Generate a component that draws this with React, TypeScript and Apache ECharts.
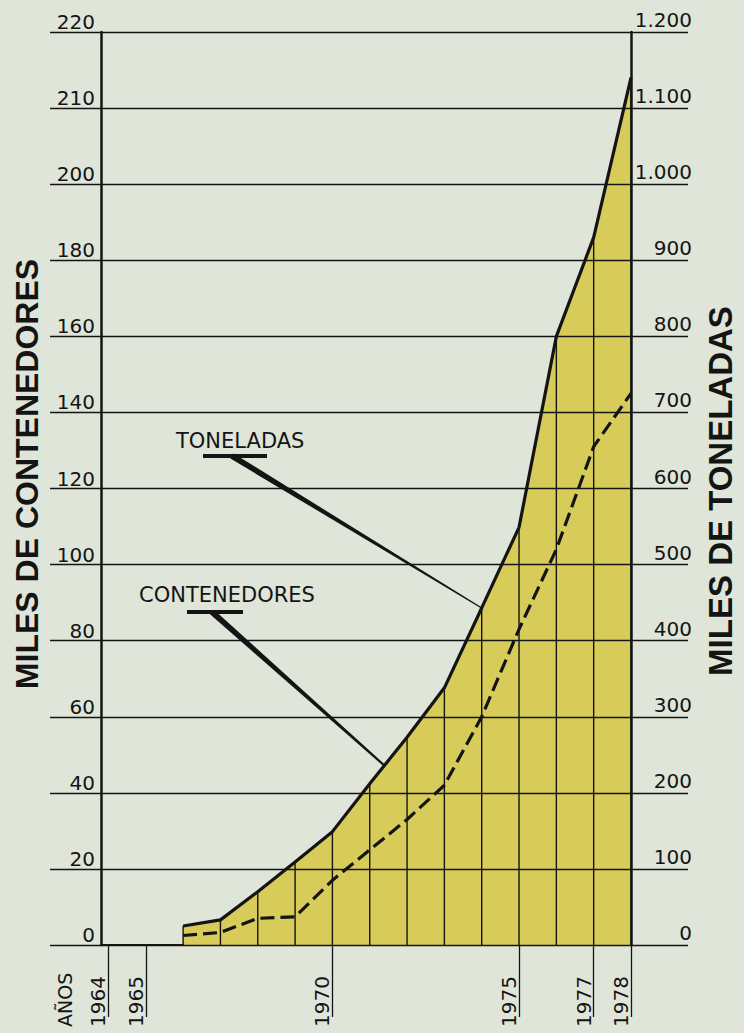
import React, { useEffect, useRef } from "react";
import * as echarts from "echarts";

// ---- data ----
const years = [1966, 1967, 1968, 1969, 1970, 1971, 1972, 1973, 1974, 1975, 1976, 1977, 1978];
// miles de toneladas (right axis)
const toneladas = [25, 33, 70, 109, 149, 212, 273, 338, 443, 549, 800, 930, 1140];
// miles de contenedores (left axis)
const contenedores = [2.5, 3.3, 7, 7.4, 17, 25, 33, 42, 60, 83, 104, 131, 145];
// labelled years on the x axis
const yearTicks = [1964, 1965, 1970, 1975, 1977, 1978];

const INK = "#141414";
const BG = "#dfe5d9";
const FILL = "#d7cc5a";
const NUM_FONT = "DejaVu Sans";

function leftLabel(v: number): string {
  // the drawing switches from steps of 20 to steps of 10 above 200
  const n = v <= 200 ? v : 200 + (v - 200) / 2;
  return String(n);
}

function rightLabel(v: number): string {
  if (v >= 1000) {
    const r = v - 1000;
    return "1." + String(r).padStart(3, "0");
  }
  return String(v);
}

function wedge(x1: number, y1: number, x2: number, y2: number, w1: number, w2: number) {
  const dx = x2 - x1;
  const dy = y2 - y1;
  const len = Math.sqrt(dx * dx + dy * dy) || 1;
  const nx = -dy / len;
  const ny = dx / len;
  return [
    [x1 + (nx * w1) / 2, y1 + (ny * w1) / 2],
    [x2 + (nx * w2) / 2, y2 + (ny * w2) / 2],
    [x2 - (nx * w2) / 2, y2 - (ny * w2) / 2],
    [x1 - (nx * w1) / 2, y1 - (ny * w1) / 2],
  ];
}

export default function App() {
  const ref = useRef<HTMLDivElement>(null);

  useEffect(() => {
    if (!ref.current) return;
    const chart = echarts.init(ref.current, undefined, { renderer: "svg" });

    const tonData = years.map((y, i) => [y, toneladas[i]]);
    const conData = years.map((y, i) => [y, contenedores[i]]);

    chart.setOption({
      animation: false,
      backgroundColor: BG,
      grid: { left: 101, right: 113, top: 32, bottom: 88, containLabel: false },
      xAxis: {
        type: "value",
        min: 1963.8,
        max: 1978,
        axisLine: { show: true, lineStyle: { color: INK, width: 1.8 } },
        axisTick: {
          show: true,
          customValues: yearTicks,
          length: 72,
          lineStyle: { color: INK, width: 1.3 },
        },
        axisLabel: {
          show: true,
          customValues: yearTicks,
          rotate: 90,
          align: "left",
          verticalAlign: "bottom",
          margin: 82,
          fontSize: 20,
          fontFamily: NUM_FONT,
          color: INK,
          formatter: (v: number) => String(v),
        },
        splitLine: { show: false },
      },
      yAxis: [
        {
          type: "value",
          position: "left",
          min: 0,
          max: 240,
          interval: 20,
          z: 3,
          axisLine: { show: true, lineStyle: { color: INK, width: 2.5 } },
          axisTick: { show: true, length: 51, lineStyle: { color: INK, width: 1.4 } },
          axisLabel: {
            margin: 6,
            fontSize: 20,
            fontFamily: NUM_FONT,
            color: INK,
            verticalAlign: "bottom",
            formatter: leftLabel,
          },
          splitLine: { show: true, lineStyle: { color: INK, width: 1.4 } },
        },
        {
          type: "value",
          position: "right",
          min: 0,
          max: 1200,
          interval: 100,
          z: 3,
          axisLine: { show: true, lineStyle: { color: INK, width: 2.5 } },
          axisTick: { show: true, length: 57, lineStyle: { color: INK, width: 1.4 } },
          axisLabel: {
            margin: 61,
            align: "right",
            fontSize: 20,
            fontFamily: NUM_FONT,
            color: INK,
            verticalAlign: "bottom",
            padding: [0, 0, 2, 0],
            formatter: rightLabel,
          },
          splitLine: { show: false },
        },
      ],
      series: [
        {
          name: "area",
          type: "line",
          yAxisIndex: 1,
          data: tonData,
          symbol: "none",
          lineStyle: { width: 0 },
          areaStyle: { color: FILL, opacity: 1 },
          z: 1,
          silent: true,
        },
        {
          name: "verticales",
          type: "bar",
          yAxisIndex: 1,
          data: tonData,
          barWidth: 1.4,
          itemStyle: { color: INK },
          z: 1,
          silent: true,
        },
        {
          name: "TONELADAS",
          type: "line",
          yAxisIndex: 1,
          data: tonData,
          symbol: "none",
          lineStyle: { color: INK, width: 3.2 },
          z: 5,
        },
        {
          name: "CONTENEDORES",
          type: "line",
          yAxisIndex: 0,
          data: conData,
          symbol: "none",
          lineStyle: { color: INK, width: 3.2, type: [14, 6] },
          z: 5,
        },
      ],
    });

    const tonEnd = chart.convertToPixel({ xAxisIndex: 0, yAxisIndex: 1 }, [1974, toneladas[8]]) as number[];
    const conEnd = chart.convertToPixel(
      { xAxisIndex: 0, yAxisIndex: 0 },
      [1972.5, (contenedores[6] + contenedores[7]) / 2]
    ) as number[];

    chart.setOption({
      graphic: [
        {
          type: "text",
          x: 27,
          y: 474,
          rotation: Math.PI / 2,
          style: {
            text: "MILES DE CONTENEDORES",
            font: 'bold 32px "Liberation Sans"',
            fill: INK,
            align: "center",
            verticalAlign: "middle",
          },
        },
        {
          type: "text",
          x: 720,
          y: 491,
          rotation: Math.PI / 2,
          style: {
            text: "MILES DE TONELADAS",
            font: 'bold 33px "Liberation Sans"',
            fill: INK,
            align: "center",
            verticalAlign: "middle",
          },
        },
        {
          type: "text",
          x: 74,
          y: 1027,
          rotation: Math.PI / 2,
          style: {
            text: "AÑOS",
            font: '19px "DejaVu Sans"',
            fill: INK,
            align: "left",
            verticalAlign: "bottom",
          },
        },
        {
          type: "text",
          x: 176,
          y: 441,
          style: {
            text: "TONELADAS",
            font: '21px "DejaVu Sans"',
            fill: INK,
            align: "left",
            verticalAlign: "middle",
          },
        },
        {
          type: "line",
          shape: { x1: 203, y1: 456, x2: 267, y2: 456 },
          style: { stroke: INK, lineWidth: 4 },
        },
        {
          type: "polygon",
          shape: { points: wedge(232, 456, tonEnd[0], tonEnd[1], 6, 1.2) },
          style: { fill: INK },
        },
        {
          type: "text",
          x: 139,
          y: 595,
          style: {
            text: "CONTENEDORES",
            font: '21px "DejaVu Sans"',
            fill: INK,
            align: "left",
            verticalAlign: "middle",
          },
        },
        {
          type: "line",
          shape: { x1: 187, y1: 612, x2: 243, y2: 612 },
          style: { stroke: INK, lineWidth: 4 },
        },
        {
          type: "polygon",
          shape: { points: wedge(212, 612, conEnd[0], conEnd[1], 6, 1.2) },
          style: { fill: INK },
        },
      ],
    });

    return () => chart.dispose();
  }, []);

  return (
    <div
      ref={ref}
      style={{ position: "absolute", left: 0, top: 0, width: 744, height: 1033, background: BG }}
    />
  );
}
